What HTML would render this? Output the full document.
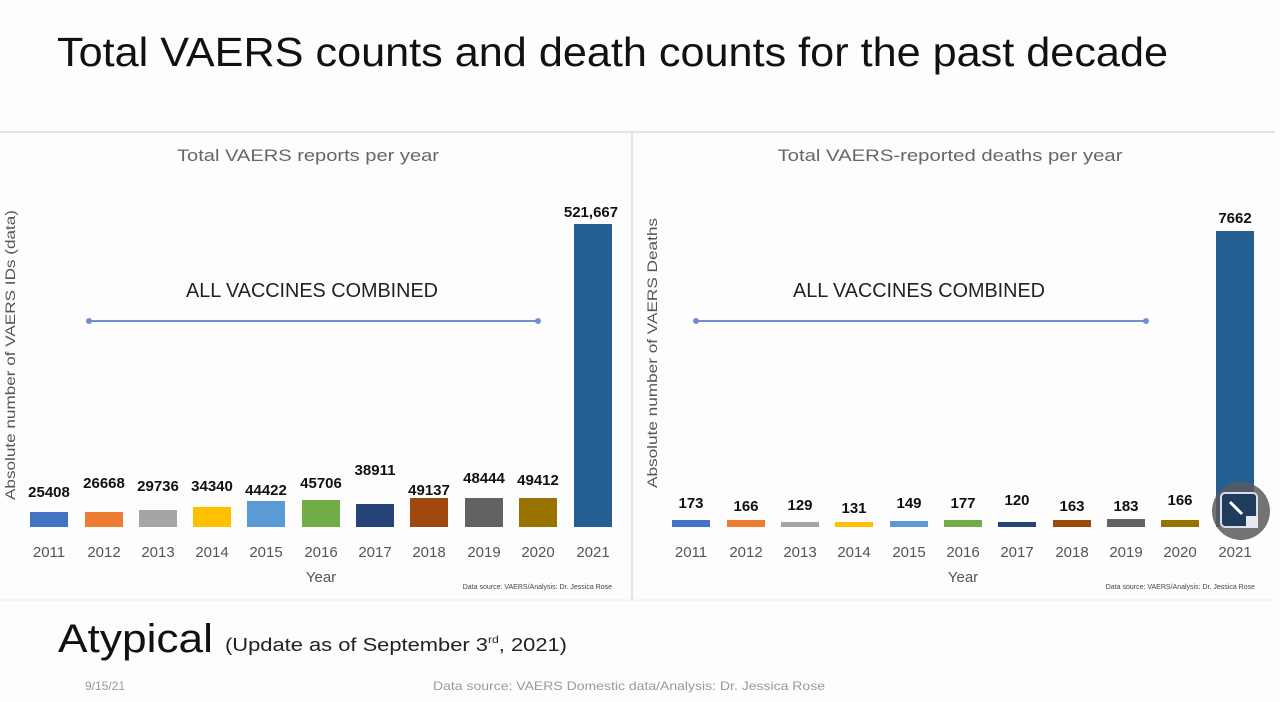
<!DOCTYPE html>
<html><head><meta charset="utf-8"><style>
html,body{margin:0;padding:0;background:#fff;}
svg{display:block;font-family:"Liberation Sans",sans-serif;}
</style></head><body>
<svg width="1280" height="702" viewBox="0 0 1280 702" xmlns="http://www.w3.org/2000/svg">
<rect width="1280" height="702" fill="#fdfdfd"/>
<text x="57" y="66" font-size="41" fill="#111" textLength="1111" lengthAdjust="spacingAndGlyphs">Total VAERS counts and death counts for the past decade</text>
<!-- panels -->
<line x1="0" y1="132" x2="1275" y2="132" stroke="#e4e4e4" stroke-width="2"/>
<line x1="632" y1="132" x2="632" y2="600" stroke="#e4e4e4" stroke-width="2"/>
<line x1="0" y1="600" x2="1275" y2="600" stroke="#eeeeee" stroke-width="1"/>
<!-- left chart -->
<text x="308" y="161" font-size="17" fill="#666" text-anchor="middle" textLength="262" lengthAdjust="spacingAndGlyphs">Total VAERS reports per year</text>
<text transform="translate(15,355) rotate(-90)" font-size="14" fill="#555" text-anchor="middle" textLength="290" lengthAdjust="spacingAndGlyphs">Absolute number of VAERS IDs (data)</text>
<text x="312" y="297" font-size="20" fill="#222" text-anchor="middle" textLength="252" lengthAdjust="spacingAndGlyphs">ALL VACCINES COMBINED</text>
<line x1="89" y1="321" x2="538" y2="321" stroke="#6f8fcf" stroke-width="2"/>
<circle cx="89" cy="321" r="3" fill="#6f8fcf"/><circle cx="538" cy="321" r="3" fill="#6f8fcf"/>
<g>
<rect x="30" y="512" width="38" height="15" fill="#4472c4"/>
<rect x="85" y="512" width="38" height="15" fill="#ed7d31"/>
<rect x="139" y="510" width="38" height="17" fill="#a5a5a5"/>
<rect x="193" y="507" width="38" height="20" fill="#ffc000"/>
<rect x="247" y="501" width="38" height="26" fill="#5b9bd5"/>
<rect x="302" y="500" width="38" height="27" fill="#70ad47"/>
<rect x="356" y="504" width="38" height="23" fill="#264478"/>
<rect x="410" y="498" width="38" height="29" fill="#9e480e"/>
<rect x="465" y="498" width="38" height="29" fill="#636363"/>
<rect x="519" y="498" width="38" height="29" fill="#997300"/>
<rect x="574" y="224" width="38" height="303" fill="#255e91"/>
</g>
<g font-size="15" font-weight="bold" fill="#111" text-anchor="middle">
<text x="49" y="497">25408</text><text x="104" y="488">26668</text><text x="158" y="491">29736</text>
<text x="212" y="491">34340</text><text x="266" y="495">44422</text><text x="321" y="488">45706</text>
<text x="375" y="475">38911</text><text x="429" y="495">49137</text><text x="484" y="483">48444</text>
<text x="538" y="485">49412</text><text x="591" y="217">521,667</text>
</g>
<g font-size="15" fill="#555" text-anchor="middle">
<text x="49" y="557">2011</text><text x="104" y="557">2012</text><text x="158" y="557">2013</text><text x="212" y="557">2014</text>
<text x="266" y="557">2015</text><text x="321" y="557">2016</text><text x="375" y="557">2017</text><text x="429" y="557">2018</text>
<text x="484" y="557">2019</text><text x="538" y="557">2020</text><text x="593" y="557">2021</text>
<text x="321" y="582">Year</text>
</g>
<text x="612" y="589" font-size="7" fill="#444" text-anchor="end">Data source: VAERS/Analysis: Dr. Jessica Rose</text>
<!-- right chart -->
<text x="950" y="161" font-size="17" fill="#666" text-anchor="middle" textLength="345" lengthAdjust="spacingAndGlyphs">Total VAERS-reported deaths per year</text>
<text transform="translate(657,353) rotate(-90)" font-size="14" fill="#555" text-anchor="middle" textLength="270" lengthAdjust="spacingAndGlyphs">Absolute number of VAERS Deaths</text>
<text x="919" y="297" font-size="20" fill="#222" text-anchor="middle" textLength="252" lengthAdjust="spacingAndGlyphs">ALL VACCINES COMBINED</text>
<line x1="696" y1="321" x2="1146" y2="321" stroke="#6f8fcf" stroke-width="2"/>
<circle cx="696" cy="321" r="3" fill="#6f8fcf"/><circle cx="1146" cy="321" r="3" fill="#6f8fcf"/>
<g>
<rect x="672" y="520" width="38" height="7" fill="#4472c4"/>
<rect x="727" y="520" width="38" height="7" fill="#ed7d31"/>
<rect x="781" y="522" width="38" height="5" fill="#a5a5a5"/>
<rect x="835" y="522" width="38" height="5" fill="#ffc000"/>
<rect x="890" y="521" width="38" height="6" fill="#5b9bd5"/>
<rect x="944" y="520" width="38" height="7" fill="#70ad47"/>
<rect x="998" y="522" width="38" height="5" fill="#264478"/>
<rect x="1053" y="520" width="38" height="7" fill="#9e480e"/>
<rect x="1107" y="519" width="38" height="8" fill="#636363"/>
<rect x="1161" y="520" width="38" height="7" fill="#997300"/>
<rect x="1216" y="231" width="38" height="296" fill="#255e91"/>
</g>
<g font-size="15" font-weight="bold" fill="#111" text-anchor="middle">
<text x="691" y="508">173</text><text x="746" y="511">166</text><text x="800" y="510">129</text>
<text x="854" y="513">131</text><text x="909" y="508">149</text><text x="963" y="508">177</text>
<text x="1017" y="505">120</text><text x="1072" y="511">163</text><text x="1126" y="511">183</text>
<text x="1180" y="505">166</text><text x="1235" y="223">7662</text>
</g>
<g font-size="15" fill="#555" text-anchor="middle">
<text x="691" y="557">2011</text><text x="746" y="557">2012</text><text x="800" y="557">2013</text><text x="854" y="557">2014</text>
<text x="909" y="557">2015</text><text x="963" y="557">2016</text><text x="1017" y="557">2017</text><text x="1072" y="557">2018</text>
<text x="1126" y="557">2019</text><text x="1180" y="557">2020</text><text x="1235" y="557">2021</text>
<text x="963" y="582">Year</text>
</g>
<text x="1255" y="589" font-size="7" fill="#444" text-anchor="end">Data source: VAERS/Analysis: Dr. Jessica Rose</text>
<!-- overlay icon -->
<circle cx="1241" cy="511" r="29" fill="#5a5a5a" opacity="0.85"/>
<rect x="1221" y="493" width="36" height="34" rx="4" fill="#1f3c5c" stroke="#dde" stroke-width="2"/>
<rect x="1246" y="516" width="12" height="12" fill="#e8e8f0"/>
<line x1="1230" y1="502" x2="1242" y2="514" stroke="#fff" stroke-width="3"/>
<!-- footer -->
<text x="58" y="652" font-size="40" fill="#111" textLength="155" lengthAdjust="spacingAndGlyphs">Atypical</text>
<text x="225" y="651" font-size="18" fill="#222" textLength="342" lengthAdjust="spacingAndGlyphs">(Update as of September 3<tspan font-size="10" dy="-8">rd</tspan><tspan dy="8">, 2021)</tspan></text>
<text x="85" y="690" font-size="12" fill="#999">9/15/21</text>
<text x="433" y="690" font-size="12" fill="#999" textLength="392" lengthAdjust="spacingAndGlyphs">Data source: VAERS Domestic data/Analysis: Dr. Jessica Rose</text>
</svg>
</body></html>
